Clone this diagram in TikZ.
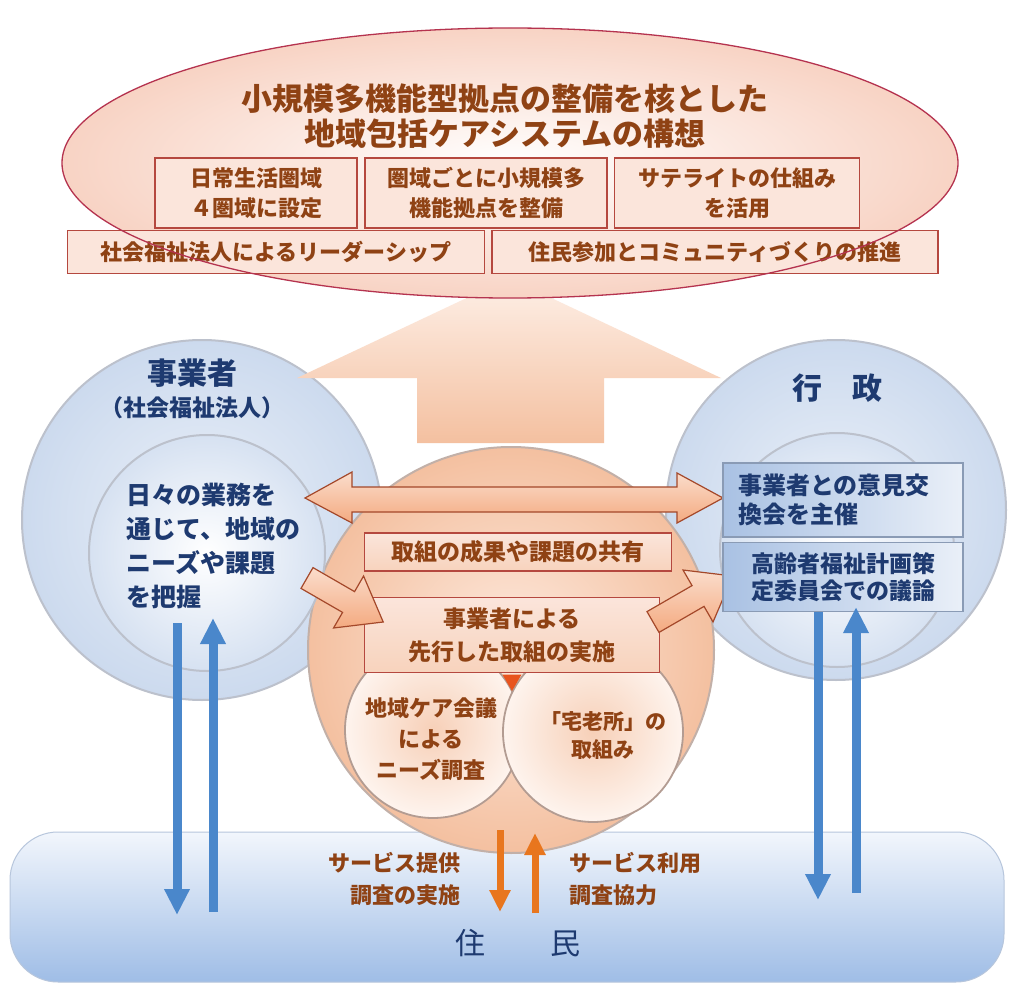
\documentclass[tikz,border=0pt]{standalone}
\usepackage{fontspec}
\setmainfont{Noto Sans CJK JP}
\usepackage{xcolor}
\usepackage{tikz}
\usetikzlibrary{arrows.meta,positioning,shapes.geometric}

\definecolor{kousouline}{HTML}{B5334F}
\definecolor{kousoufill}{HTML}{F8D3C4}
\definecolor{boxred}{HTML}{B5483F}
\definecolor{boxpink}{HTML}{FBE5DB}
\definecolor{txtbrown}{HTML}{8F4214}
\definecolor{txtnavy}{HTML}{1E3A70}
\definecolor{circblue}{HTML}{CCDAEE}
\definecolor{circline}{HTML}{BCC1CC}
\definecolor{peach}{HTML}{F4C0A0}
\definecolor{peachlight}{HTML}{FDE9DD}
\definecolor{smline}{HTML}{B39C92}
\definecolor{arrowfill}{HTML}{F4AA80}
\definecolor{arrowline}{HTML}{A4482A}
\definecolor{rboxblue}{HTML}{A9C1E3}
\definecolor{rboxline}{HTML}{8A9BB5}
\definecolor{sblue}{HTML}{4A87CB}
\definecolor{sorange}{HTML}{E8761E}
\definecolor{trired}{HTML}{E8541E}
\definecolor{jumintop}{HTML}{F2F6FC}
\definecolor{juminbot}{HTML}{9FBDE6}
\definecolor{juminline}{HTML}{B7C6DC}

\begin{document}
\begin{tikzpicture}[x=1pt, y=-1pt,
    kbox/.style={draw=boxred, line width=1.5pt, fill=boxpink, inner sep=0pt, align=center, text=txtbrown, font=\bfseries\fontsize{22}{30}\selectfont},
    cbox/.style={draw=boxred, line width=1.5pt, top color=boxpink, bottom color=peach!70, inner sep=0pt, align=center, text=txtbrown, font=\bfseries\fontsize{23}{33}\selectfont},
    rbox/.style={draw=rboxline, line width=1.2pt, left color=rboxblue, right color=rboxblue!25, inner sep=0pt, text=txtnavy},
    bluecirc/.style={circle, draw=circline, line width=2pt, inner color=white!60!circblue, outer color=circblue, inner sep=0pt},
    innercirc/.style={circle, draw=circline, line width=2pt, inner color=white, outer color=circblue!80, inner sep=0pt},
    smallcirc/.style={circle, draw=smline, line width=1.8pt, inner color=peach!75, outer color=peachlight!50, inner sep=0pt},
    blockarrow/.style={draw=arrowline, line width=1.2pt, top color=arrowfill!40, bottom color=arrowfill},
    bluearrow/.style={-{Triangle[length=26pt,width=24pt]}, line width=9pt, sblue},
    orangearrow/.style={-{Triangle[length=22pt,width=20pt]}, line width=7pt, sorange},
    browntxt/.style={text=txtbrown, font=\bfseries\fontsize{22}{32}\selectfont},
    navytxt/.style={text=txtnavy, font=\bfseries\fontsize{25}{34}\selectfont}
]
    \useasboundingbox (0,0) rectangle (1012,984);
    \fill[white] (0,0) rectangle (1012,984);

    % residents band at the bottom
    \node[draw=juminline, line width=1pt, rounded corners=48pt, top color=jumintop, bottom color=juminbot, minimum width=994pt, minimum height=150pt, inner sep=0pt] (jumin) at (507,907) {};

    % the circles
    \node[bluecirc, minimum size=360pt] (jigyo) at (202,520) {};
    \node[bluecirc, minimum size=340pt] (gyosei) at (836,510) {};
    \node[circle, draw=smline!80, line width=2pt, inner color=peachlight, outer color=peach, minimum size=406pt, inner sep=0pt] (chuo) at (511,650) {};
    \node[innercirc, minimum size=236pt] (jigyoin) at (207,553) {};
    \node[innercirc, minimum size=234pt] (gyoseiin) at (837,550) {};
    \node[smallcirc, minimum size=176pt] (kaigi) at (433,730) {};
    \node[smallcirc, minimum size=180pt] (takuro) at (593,732) {};

    % big arrow up to the plan
    \path[top color=peachlight!70, bottom color=peach] (509,278) -- (721,378) -- (604,378) -- (604,443) -- (417,443) -- (417,378) -- (297,378) -- cycle;

    % the plan
    \node[ellipse, inner color=white, outer color=kousoufill, minimum width=896pt, minimum height=270pt, inner sep=0pt] (kousou) at (510,163) {};
    \node[text=txtbrown, font=\bfseries\fontsize{31}{35}\selectfont, align=center] (title) at (505,116)
        {小規模多機能型拠点の整備を核とした\\地域包括ケアシステムの構想};
    \node[kbox, minimum width=202pt, minimum height=70pt] (kenniki) at (256,193) {日常生活圏域\\４圏域に設定};
    \node[kbox, minimum width=242pt, minimum height=70pt] (kyoten) at (486,193) {圏域ごとに小規模多\\機能拠点を整備};
    \node[kbox, minimum width=245pt, minimum height=70pt] (satellite) at (737,193) {サテライトの仕組み\\を活用};
    \node[kbox, minimum width=417pt, minimum height=43pt] (leader) at (276,252) {社会福祉法人によるリーダーシップ};
    \node[kbox, minimum width=446pt, minimum height=43pt] (sanka) at (715,252) {住民参加とコミュニティづくりの推進};
    \draw[kousouline, line width=1.3pt] (kousou.center) ellipse [x radius=448, y radius=135];

    % middle boxes
    \node[cbox, minimum width=307pt, minimum height=38pt] (kyoyu) at (518,552) {取組の成果や課題の共有};
    \node[cbox, minimum width=295pt, minimum height=75pt] (senko) at (512,635) {事業者による\\先行した取組の実施};
    \node[regular polygon, regular polygon sides=3, shape border rotate=180, fill=trired, minimum size=22pt, inner sep=0pt] (sankaku) at (512,680) {};

    % block arrows
    \path[blockarrow] (305,498) -- (352,472) -- (352,487) -- (677,487) -- (677,473) -- (723,498) -- (677,523) -- (677,512) -- (352,512) -- (352,523) -- cycle;
    \begin{scope}[shift={(307,578)}, rotate=-30]
        \path[blockarrow] (0,-12) -- (48,-12) -- (48,-30) -- (88,0) -- (48,30) -- (48,12) -- (0,12) -- cycle;
    \end{scope}
    \begin{scope}[shift={(653,622)}, rotate=30]
        \path[blockarrow] (0,-12) -- (52,-12) -- (52,-30) -- (92,0) -- (52,30) -- (52,12) -- (0,12) -- cycle;
    \end{scope}

    % administration boxes
    \node[rbox, minimum width=240pt, minimum height=74pt, text width=210pt, align=left, font=\bfseries\fontsize{24}{29}\selectfont] (iken) at (843,500) {事業者との意見交\\換会を主催};
    \node[rbox, minimum width=240pt, minimum height=69pt, align=center, font=\bfseries\fontsize{23}{27}\selectfont] (keikaku) at (843,577) {高齢者福祉計画策\\定委員会での議論};

    % labels
    \node[text=txtnavy, font=\bfseries\fontsize{30}{34}\selectfont] (jigyolbl) at (192,373) {事業者};
    \node[text=txtnavy, font=\bfseries\fontsize{23}{28}\selectfont] (hojin) at (192,408) {（社会福祉法人）};
    \node[navytxt, anchor=west, align=left] (haaku) at (123,546) {日々の業務を\\通じて、地域の\\ニーズや課題\\を把握};
    \node[text=txtnavy, font=\bfseries\fontsize{30}{34}\selectfont] (gyoseilbl) at (837,388) {行　政};
    \node[browntxt, align=center, font=\bfseries\fontsize{22}{31}\selectfont] (kaigitxt) at (431,739) {地域ケア会議\\による\\ニーズ調査};
    \node[browntxt, align=center, font=\bfseries\fontsize{21}{28}\selectfont] (takurotxt) at (603,736) {「宅老所」の\\取組み};
    \node[browntxt, anchor=east, align=right] (teikyo) at (464,879) {サービス提供\\調査の実施};
    \node[browntxt, anchor=west, align=left] (riyo) at (566,879) {サービス利用\\調査協力};
    \node[text=txtnavy, font=\fontsize{30}{34}\selectfont] (juminlbl) at (518,943) {住\hspace{2.2em}民};

    % connectors
    \coordinate (jdtop) at (177,623);
    \coordinate (jdbot) at (177,915);
    \coordinate (jutop) at (213,618);
    \coordinate (jubot) at (213,912);
    \coordinate (gdbot) at (818,900);
    \coordinate (gubot) at (856,893);
    \coordinate (odtop) at (500,830);
    \coordinate (odbot) at (500,912);
    \coordinate (outop) at (535,833);
    \coordinate (oubot) at (535,913);
    \draw[bluearrow] (jdtop) -- (jdbot);
    \draw[bluearrow] (jubot) -- (jutop);
    \draw[bluearrow] (keikaku.south -| gdbot) -- (gdbot);
    \draw[bluearrow] (gubot) -- ([yshift=5pt]keikaku.south -| gubot);
    \draw[orangearrow] (odtop) -- (odbot);
    \draw[orangearrow] (oubot) -- (outop);
\end{tikzpicture}
\end{document}
